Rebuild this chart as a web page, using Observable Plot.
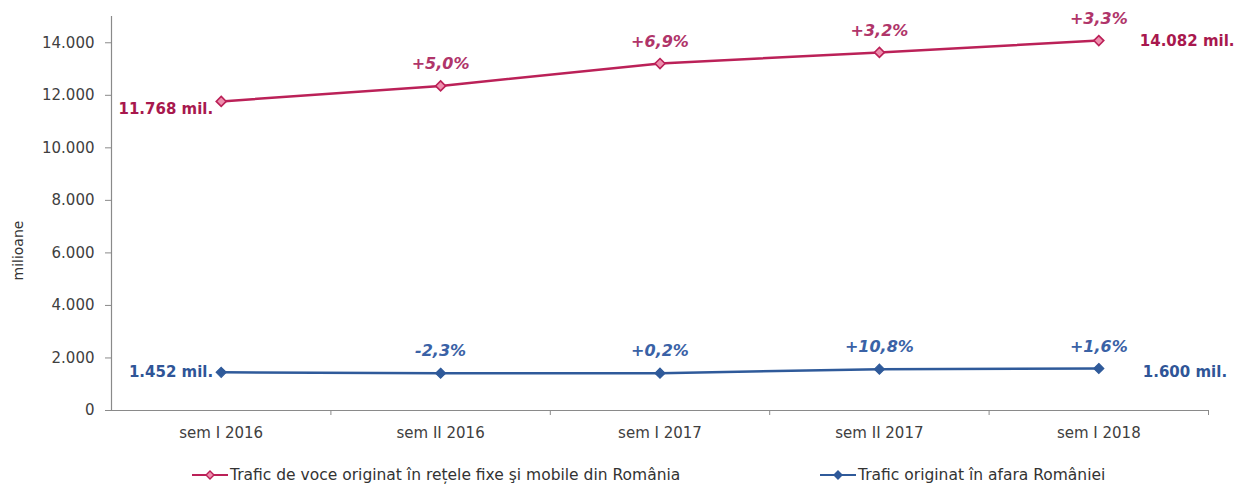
<!DOCTYPE html>
<html>
<head>
<meta charset="utf-8">
<script src="https://cdn.jsdelivr.net/npm/d3@7"></script>
<script src="https://cdn.jsdelivr.net/npm/@observablehq/plot@0.6"></script>
<style>
  html, body { margin: 0; padding: 0; background: #fff; }
  #chart { width: 1241px; }
  .legend { position: relative; width: 1241px; height: 34px; font-family: "DejaVu Sans", sans-serif; font-size: 15.5px; color: #333; }
  .legend .item { position: absolute; top: 0; height: 34px; display: flex; align-items: center; }
  .legend svg { display: block; margin-right: 2px; }
</style>
</head>
<body>
<div id="chart"></div>
<script>
const categories = ["sem I 2016", "sem II 2016", "sem I 2017", "sem II 2017", "sem I 2018"];
const traficRomania = [11768, 12357, 13210, 13633, 14082];
const traficExtern = [1452, 1419, 1422, 1575, 1600];
const pctRomania = [null, "+5,0%", "+6,9%", "+3,2%", "+3,3%"];
const pctExtern = [null, "-2,3%", "+0,2%", "+10,8%", "+1,6%"];
const yTicks = [0, 2000, 4000, 6000, 8000, 10000, 12000, 14000];
const seriesNames = ["Trafic de voce originat în rețele fixe şi mobile din România", "Trafic originat în afara României"];
const seriesColors = ["#bb2158", "#2f5a9a"];
const yLabel = "milioane";

const fmt = d3.formatLocale({decimal: ",", thousands: ".", grouping: [3], currency: ["", ""]}).format(",d");
const idx = categories.map((c, i) => i);
const rows = (vals, pcts) => idx.map(i => ({i, v: vals[i], p: pcts[i]}));
const rRo = rows(traficRomania, pctRomania);
const rEx = rows(traficExtern, pctExtern);
const last = idx.length - 1;

const FONT = "DejaVu Sans, sans-serif";
const AX = "#8a8a8a";

const plot = Plot.plot({
  width: 1241,
  height: 458,
  marginLeft: 111,
  marginRight: 33,
  marginTop: 16,
  marginBottom: 48,
  style: {fontFamily: FONT, fontSize: "15px", color: "#404040", background: "#fff"},
  x: {type: "linear", domain: [-0.5, idx.length - 0.5]},
  y: {domain: [0, 15000]},
  marks: [
    Plot.axisY({ticks: yTicks, tickSize: 6, tickPadding: 11, tickFormat: fmt, stroke: AX, fill: "#404040", fontSize: 15, label: null}),
    Plot.axisX({ticks: idx, tickSize: 0, tickPadding: 17, tickFormat: i => categories[i], fill: "#404040", fontSize: 15, label: null}),
    Plot.axisX({ticks: idx.map(i => i + 0.5), tickSize: 5, tickFormat: () => "", stroke: AX, label: null}),
    Plot.ruleY([0], {stroke: AX, strokeWidth: 1.2}),
    Plot.ruleX([-0.5], {stroke: AX, strokeWidth: 1.2}),
    Plot.text([yLabel], {frameAnchor: "left", dx: -93, dy: 67, rotate: -90, fontSize: 14, fill: "#333333"}),
    // lines
    Plot.line(rRo, {x: "i", y: "v", stroke: seriesColors[0], strokeWidth: 2.5}),
    Plot.line(rEx, {x: "i", y: "v", stroke: seriesColors[1], strokeWidth: 2.5}),
    Plot.dot(rRo, {x: "i", y: "v", symbol: "diamond2", r: 4.5, stroke: seriesColors[0], strokeWidth: 1.6, fill: "#ee8fae"}),
    Plot.dot(rEx, {x: "i", y: "v", symbol: "diamond2", r: 4.5, stroke: seriesColors[1], strokeWidth: 1.2, fill: seriesColors[1]}),
    // percent labels
    Plot.text(rRo.filter(d => d.p), {x: "i", y: "v", text: "p", dy: -22, fontSize: 16, fontWeight: "bold", fontStyle: "italic", fill: "#b0356a"}),
    Plot.text(rEx.filter(d => d.p), {x: "i", y: "v", text: "p", dy: -22, fontSize: 16, fontWeight: "bold", fontStyle: "italic", fill: "#3a62a6"}),
    // end labels
    Plot.text([rRo[0]], {x: "i", y: "v", text: d => fmt(d.v) + " mil.", textAnchor: "end", dx: -8, dy: 8, fontSize: 15, fontWeight: "bold", fill: "#a8184e"}),
    Plot.text([rRo[last]], {x: "i", y: "v", text: d => fmt(d.v) + " mil.", textAnchor: "start", dx: 41, dy: 1, fontSize: 15, fontWeight: "bold", fill: "#a8184e"}),
    Plot.text([rEx[0]], {x: "i", y: "v", text: d => fmt(d.v) + " mil.", textAnchor: "end", dx: -8, dy: 0, fontSize: 15, fontWeight: "bold", fill: "#2f5597"}),
    Plot.text([rEx[last]], {x: "i", y: "v", text: d => fmt(d.v) + " mil.", textAnchor: "start", dx: 44, dy: 4, fontSize: 15, fontWeight: "bold", fill: "#2f5597"})
  ]
});
document.getElementById("chart").appendChild(plot);

// legend
const legend = document.createElement("div");
legend.className = "legend";
const legendLeft = [192, 820];
seriesNames.forEach((name, k) => {
  const item = document.createElement("div");
  item.className = "item";
  item.style.left = legendLeft[k] + "px";
  const fill = k === 0 ? "#ee8fae" : seriesColors[k];
  item.innerHTML = `<svg width="36" height="12"><line x1="0" y1="6" x2="36" y2="6" stroke="${seriesColors[k]}" stroke-width="2.2"/><path d="M18,2L22,6L18,10L14,6Z" fill="${fill}" stroke="${seriesColors[k]}" stroke-width="1.4"/></svg><span>${name}</span>`;
  legend.appendChild(item);
});
document.body.appendChild(legend);
</script>
</body>
</html>
